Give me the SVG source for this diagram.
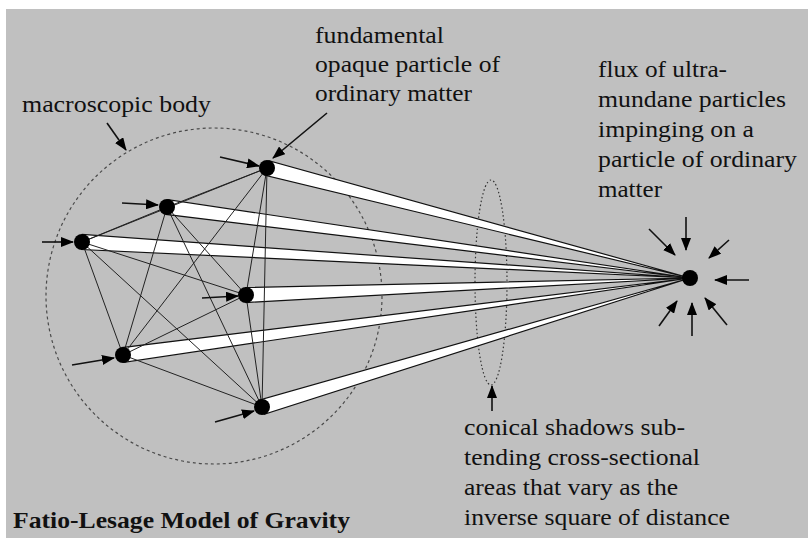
<svg xmlns="http://www.w3.org/2000/svg" width="808" height="538" viewBox="0 0 808 538">
<style>
.txt{font-family:"Liberation Serif","DejaVu Serif",serif;font-size:24px;fill:#111}
.title{font-family:"Liberation Serif","DejaVu Serif",serif;font-size:24px;font-weight:bold;fill:#111}
.cone{fill:#fff;stroke:#111;stroke-width:1.2;stroke-linejoin:miter}
.edge{stroke:#222;stroke-width:1;fill:none}
.arr{stroke:#111;stroke-width:1.6;fill:none;marker-end:url(#ah)}
.pt{fill:#000}
</style>
<defs>
<marker id="ah" markerUnits="userSpaceOnUse" markerWidth="13" markerHeight="10" refX="12" refY="5" orient="auto">
<path d="M0,0 L13,5 L0,10 z" fill="#000"/>
</marker>
</defs>
<rect x="0" y="0" width="808" height="538" fill="#fff"/>
<rect x="6" y="9" width="802" height="529" fill="#c0c0c0"/>

<g id="macroscopic-body">
<circle cx="214" cy="296" r="168" fill="none" stroke="#4a4a4a" stroke-width="1.2" stroke-dasharray="3 3"/>
</g>
<g id="shadow-section">
<ellipse cx="491" cy="282.5" rx="16" ry="102.5" fill="none" stroke="#333" stroke-width="1.2" stroke-dasharray="1.5 2.5"/>
</g>

<g id="connectors">
<g id="cones">
<polygon class="cone" points="265.1,175.3 268.9,160.7 690,278"/>
<polygon class="cone" points="166,214.4 168,199.6 690,278"/>
<polygon class="cone" points="81.6,249.5 82.4,234.5 690,278"/>
<polygon class="cone" points="246.3,302.5 245.7,287.5 690,278"/>
<polygon class="cone" points="124,362.4 122,347.6 690,278"/>
<polygon class="cone" points="264.2,414.2 259.8,399.8 690,278"/>
</g>
<g id="edges">
<line class="edge" x1="267" y1="168" x2="167" y2="207"/>
<line class="edge" x1="267" y1="168" x2="82" y2="242"/>
<line class="edge" x1="267" y1="168" x2="246" y2="295"/>
<line class="edge" x1="267" y1="168" x2="123" y2="355"/>
<line class="edge" x1="267" y1="168" x2="262" y2="407"/>
<line class="edge" x1="167" y1="207" x2="82" y2="242"/>
<line class="edge" x1="167" y1="207" x2="246" y2="295"/>
<line class="edge" x1="167" y1="207" x2="123" y2="355"/>
<line class="edge" x1="167" y1="207" x2="262" y2="407"/>
<line class="edge" x1="82" y1="242" x2="246" y2="295"/>
<line class="edge" x1="82" y1="242" x2="123" y2="355"/>
<line class="edge" x1="82" y1="242" x2="262" y2="407"/>
<line class="edge" x1="246" y1="295" x2="123" y2="355"/>
<line class="edge" x1="246" y1="295" x2="262" y2="407"/>
<line class="edge" x1="123" y1="355" x2="262" y2="407"/>
</g>
<g id="arrows">
<line class="arr" x1="220" y1="157" x2="259" y2="166"/>
<line class="arr" x1="122" y1="203" x2="158" y2="205"/>
<line class="arr" x1="42" y1="242" x2="73" y2="242"/>
<line class="arr" x1="202" y1="298" x2="238" y2="296"/>
<line class="arr" x1="72" y1="365" x2="114" y2="358"/>
<line class="arr" x1="215" y1="422" x2="254" y2="411"/>
<line class="arr" x1="107" y1="123" x2="126" y2="150"/>
<line class="arr" x1="327" y1="113" x2="273" y2="158"/>
<line class="arr" x1="649" y1="229" x2="675" y2="255"/>
<line class="arr" x1="686" y1="217" x2="686" y2="250"/>
<line class="arr" x1="729" y1="240" x2="709" y2="258"/>
<line class="arr" x1="749" y1="280" x2="715" y2="280"/>
<line class="arr" x1="727" y1="325" x2="705" y2="298"/>
<line class="arr" x1="692" y1="336" x2="692" y2="303"/>
<line class="arr" x1="659" y1="326" x2="677" y2="301"/>
<line class="arr" x1="492" y1="411" x2="492" y2="386"/>
</g>
</g>

<g id="p1"><circle class="pt" cx="267" cy="168" r="8"/></g>
<g id="p2"><circle class="pt" cx="167" cy="207" r="8"/></g>
<g id="p3"><circle class="pt" cx="82" cy="242" r="8"/></g>
<g id="p4"><circle class="pt" cx="246" cy="295" r="8"/></g>
<g id="p5"><circle class="pt" cx="123" cy="355" r="8"/></g>
<g id="p6"><circle class="pt" cx="262" cy="407" r="8"/></g>
<g id="target-particle"><circle class="pt" cx="690" cy="278" r="8"/></g>

<g id="label-macroscopic">
<text class="txt" x="22" y="112" textLength="189" lengthAdjust="spacingAndGlyphs">macroscopic body</text>
</g>
<g id="label-fundamental">
<text class="txt" x="315" y="43" textLength="129" lengthAdjust="spacingAndGlyphs">fundamental</text>
<text class="txt" x="315" y="72" textLength="185" lengthAdjust="spacingAndGlyphs">opaque particle of</text>
<text class="txt" x="315" y="101" textLength="157" lengthAdjust="spacingAndGlyphs">ordinary matter</text>
</g>
<g id="label-flux">
<text class="txt" x="598" y="77" textLength="129" lengthAdjust="spacingAndGlyphs">flux of ultra-</text>
<text class="txt" x="598" y="107" textLength="188" lengthAdjust="spacingAndGlyphs">mundane particles</text>
<text class="txt" x="598" y="137" textLength="156" lengthAdjust="spacingAndGlyphs">impinging on a</text>
<text class="txt" x="598" y="167" textLength="199" lengthAdjust="spacingAndGlyphs">particle of ordinary</text>
<text class="txt" x="598" y="197" textLength="64" lengthAdjust="spacingAndGlyphs">matter</text>
</g>
<g id="label-conical">
<text class="txt" x="464" y="435" textLength="221" lengthAdjust="spacingAndGlyphs">conical shadows sub-</text>
<text class="txt" x="464" y="465" textLength="236" lengthAdjust="spacingAndGlyphs">tending cross-sectional</text>
<text class="txt" x="464" y="495" textLength="214" lengthAdjust="spacingAndGlyphs">areas that vary as the</text>
<text class="txt" x="464" y="525" textLength="266" lengthAdjust="spacingAndGlyphs">inverse square of distance</text>
</g>
<g id="title">
<text class="title" x="13" y="528" textLength="337" lengthAdjust="spacingAndGlyphs">Fatio-Lesage Model of Gravity</text>
</g>
</svg>
